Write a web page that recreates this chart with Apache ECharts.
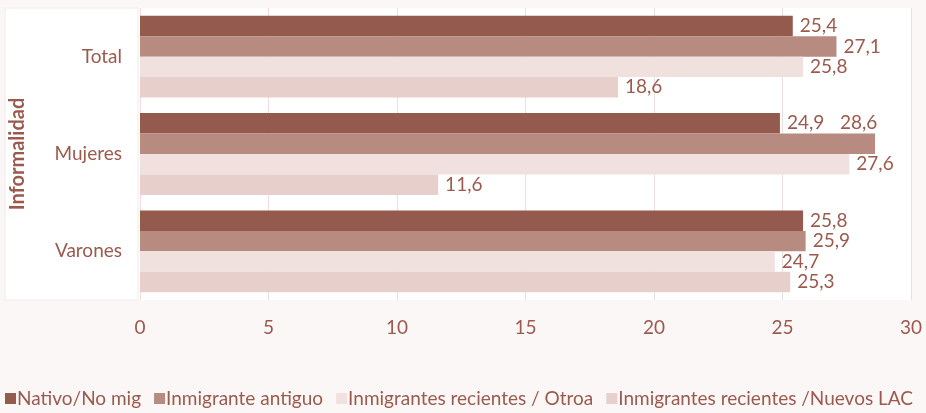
<!DOCTYPE html>
<html><head><meta charset="utf-8">
<script src="https://cdn.jsdelivr.net/npm/echarts@6/dist/echarts.min.js"></script>
<style>html,body{margin:0;padding:0;background:#fcf7f7}#c{width:926px;height:413px}</style>
</head><body><div id="c"></div>
<script>
const categories = ['Total', 'Mujeres', 'Varones'];
const seriesNames = ['Nativo/No mig', 'Inmigrante antiguo', 'Inmigrantes recientes / Otroa', 'Inmigrantes recientes /Nuevos LAC'];
const nativo = [25.4, 24.9, 25.8];
const antiguo = [27.1, 28.6, 25.9];
const otroa = [25.8, 27.6, 24.7];
const nuevosLac = [18.6, 11.6, 25.3];
const xTicks = [0, 5, 10, 15, 20, 25, 30];
const axisTitle = 'Informalidad';

const colors = ['#955a4e', '#b88b81', '#f0e1de', '#e7d0cc'];
const textColor = '#9b5a4e';
const font = 'Lato, "Open Sans", sans-serif';
const fs = 19;
const allData = [nativo, antiguo, otroa, nuevosLac];

const chart = echarts.init(document.getElementById('c'));
chart.setOption({
  backgroundColor: '#fcf7f7',
  animation: false,
  textStyle: { fontFamily: font },
  graphic: [
    { type: 'rect', z: -10, shape: { x: 5, y: 8, width: 906, height: 292 }, style: { fill: '#ffffff' } },
    { type: 'rect', z: -9, shape: { x: 5, y: 8, width: 133, height: 292 }, style: { fill: '#ffffff', stroke: '#f3eaea', lineWidth: 1 } }
  ],
  grid: { left: 140, right: 15, top: 8, bottom: 113, containLabel: false },
  xAxis: {
    type: 'value', min: xTicks[0], max: xTicks[xTicks.length - 1], interval: 5,
    axisLine: { show: false }, axisTick: { show: false },
    splitLine: { lineStyle: { color: '#eedede', width: 1 } },
    axisLabel: { color: textColor, fontSize: fs, margin: 18, fontFamily: font }
  },
  yAxis: {
    type: 'category', data: categories, inverse: true,
    name: axisTitle, nameLocation: 'middle', nameRotate: 90, nameGap: 112,
    nameTextStyle: { color: textColor, fontSize: 20, fontWeight: 'bold', fontFamily: font },
    axisLine: { show: false }, axisTick: { show: false },
    axisLabel: { color: textColor, fontSize: fs, margin: 18, fontFamily: font }
  },
  legend: {
    bottom: 0, left: 0, itemWidth: 11, itemHeight: 11, itemGap: 13,
    icon: 'rect',
    textStyle: { color: textColor, fontSize: fs, fontFamily: font, padding: [0, 0, 0, -4] },
    data: seriesNames
  },
  series: seriesNames.map((name, i) => ({
    name, type: 'bar', barGap: '0%', barCategoryGap: '16%',
    itemStyle: { color: colors[i] },
    label: {
      show: true, position: 'right', distance: 7, color: textColor, fontSize: fs, fontFamily: font,
      formatter: p => p.value.toFixed(1).replace('.', ',')
    },
    data: allData[i].map((v, j) => (i === 1 && j === 1)
      ? { value: v, label: { offset: [-42, -21] } }
      : v)
  }))
});
</script></body></html>
